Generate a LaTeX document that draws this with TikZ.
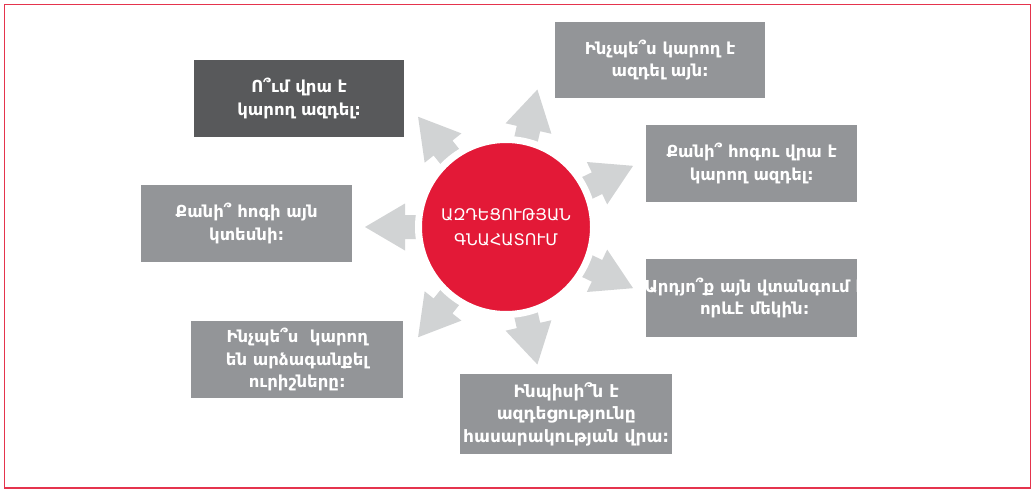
\documentclass[tikz,border=0pt]{standalone}
\usepackage{fontspec}
\setmainfont{DejaVu Sans}
\definecolor{framered}{HTML}{E5344D}
\definecolor{circred}{HTML}{E31937}
\definecolor{arrowgray}{HTML}{D1D3D4}
\definecolor{boxgray}{HTML}{939598}
\definecolor{darkgray}{HTML}{58595B}
\begin{document}
\begin{tikzpicture}[x=1pt,y=-1pt,
  boxfont/.style={font=\fontsize{16.5}{22.5}\selectfont\bfseries},
  box/.style={fill=boxgray, text=white, minimum width=211pt, minimum height=77pt,
    inner sep=0pt, align=center, anchor=north west, boxfont},
  hub/.style={circle, fill=circred, draw=white, line width=7pt, minimum size=175pt,
    inner sep=0pt, text=white, align=center, font=\fontsize{16}{25}\selectfont}]
\useasboundingbox (0,0) rectangle (1032,490);
\fill[white] (0,0) rectangle (1032,490);
\draw[framered, line width=1.5pt] (4.5,4.5) rectangle (1030.5,488);

\coordinate (c) at (506,227);
% block arrows
\foreach \a in {180,128.57,77.14,25.71,-25.71,-77.14,-128.57}{
  \fill[arrowgray, shift={(c)}, rotate=\a]
    (60,-12) -- (101,-12) -- (101,-23.5) -- (141,0) -- (101,23.5) -- (101,12) -- (60,12) -- cycle;
}
\node[hub] (hub) at (c) {ԱԶԴԵՑՈՒԹՅԱՆ\\ԳՆԱՀԱՏՈՒՄ};

\node[box, fill=darkgray, minimum width=210pt] (b1) at (194,60) {Ո՞ւմ վրա է\\կարող ազդել:};
\node[box, minimum width=210pt, minimum height=76pt] (b2) at (555,22) {Ինչպե՞ս կարող է\\ազդել այն:};
\node[box] (b3) at (646,125) {Քանի՞ հոգու վրա է\\կարող ազդել:};
\node[box] (b4) at (141,185) {Քանի՞ հոգի այն\\կտեսնի:};
\node[box, minimum height=78pt,
  path picture={\node[anchor=center, text=white, align=center, boxfont]
    at ([xshift=3pt]path picture bounding box.center) {Արդյո՞ք այն վտանգում է\\որևէ մեկին:};}]
  (b5) at (646,259) {};
\node[box, minimum width=212pt] (b6) at (191,321) {Ինչպե՞ս~ կարող\\են արձագանքել\\ուրիշները:};
\node[box, minimum width=212pt, minimum height=80pt, font=\fontsize{17}{22.5}\selectfont\bfseries] (b7) at (460,374) {Ինպիսի՞ն է\\ազդեցությունը\\հասարակության վրա:};
\end{tikzpicture}
\end{document}
